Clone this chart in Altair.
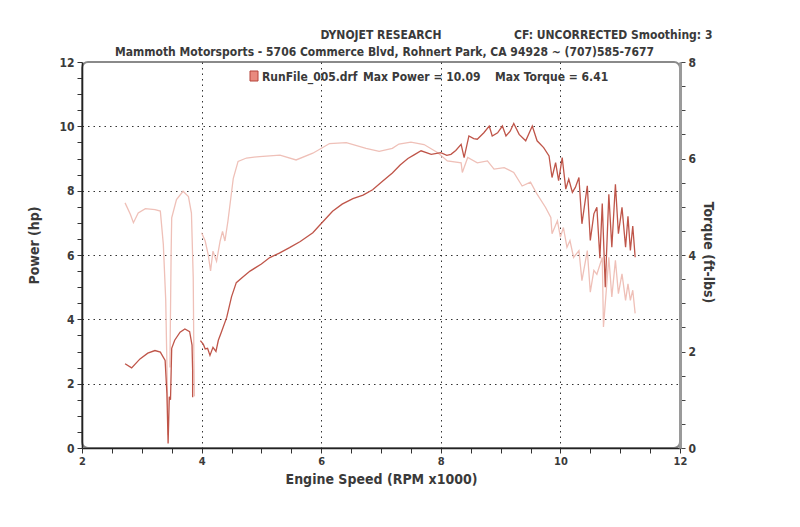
import altair as alt
import pandas as pd

# ---------------- data read from the dyno sheet ----------------
power_rpm = [2.72, 2.83, 2.97, 3.10, 3.22, 3.31, 3.39, 3.42, 3.44, 3.46, 3.48,
             3.50, 3.55, 3.64, 3.72, 3.80, 3.84, 3.85, 3.85,
             3.98, 4.03, 4.06, 4.10, 4.14, 4.19, 4.24, 4.28, 4.33, 4.42, 4.50,
             4.58, 4.70, 4.81, 5.00, 5.14, 5.30, 5.47, 5.65, 5.86, 6.02, 6.19,
             6.35, 6.53, 6.70, 6.86, 7.03, 7.19, 7.32, 7.45, 7.56, 7.67, 7.84,
             8.00, 8.10, 8.17, 8.25, 8.34, 8.39, 8.47, 8.55, 8.61, 8.72, 8.81,
             8.86, 8.95, 9.03, 9.09, 9.16, 9.22, 9.31, 9.42, 9.53, 9.61, 9.72,
             9.81, 9.86, 9.92, 9.97, 10.03, 10.09, 10.14, 10.20, 10.25, 10.31,
             10.36, 10.45, 10.50, 10.56, 10.61, 10.66, 10.70, 10.75, 10.81,
             10.86, 10.92, 10.97, 11.03, 11.09, 11.13, 11.17, 11.21, 11.25]
power_hp = [2.62, 2.49, 2.77, 2.95, 3.03, 2.98, 2.72, 1.69, 0.14, 1.59, 1.50,
            3.10, 3.35, 3.60, 3.70, 3.62, 3.20, 2.40, 1.58,
            3.34, 3.22, 3.08, 3.10, 2.88, 3.13, 3.00, 3.35, 3.60, 4.06, 4.70,
            5.14, 5.33, 5.50, 5.72, 5.92, 6.06, 6.23, 6.42, 6.69, 7.02, 7.36,
            7.58, 7.75, 7.86, 8.03, 8.30, 8.55, 8.80, 9.00, 9.12, 9.24, 9.13,
            9.18, 9.10, 9.13, 9.25, 9.44, 9.03, 9.70, 9.62, 9.60, 9.80, 10.01,
            9.70, 9.80, 10.01, 9.70, 9.85, 10.09, 9.75, 9.55, 10.01, 9.55, 9.34,
            9.08, 8.41, 8.87, 8.31, 9.03, 8.05, 8.36, 7.95, 8.10, 8.41,
            6.97, 8.15, 6.45, 7.28, 7.48, 5.90, 7.60, 5.00, 7.89,
            6.24, 8.20, 6.66, 7.48, 6.24, 7.20, 6.14, 6.90, 5.93]
power_seg = ["a"] * 19 + ["b"] * (len(power_rpm) - 19)

torque_rpm = [2.72, 2.81, 2.86, 2.94, 3.06, 3.22, 3.31, 3.36, 3.40, 3.42, 3.44,
              3.47, 3.49, 3.50, 3.58, 3.69, 3.78, 3.83, 3.86, 3.87, 3.88,
              4.00, 4.06, 4.11, 4.15, 4.19, 4.25, 4.31, 4.35, 4.39, 4.44, 4.53,
              4.61, 4.75, 4.97, 5.31, 5.58, 5.86, 6.14, 6.42, 6.75, 6.97, 7.19,
              7.30, 7.50, 7.72, 7.95, 8.11, 8.34, 8.36, 8.45, 8.61, 8.78, 8.89,
              9.06, 9.22, 9.36, 9.50, 9.61, 9.75, 9.84, 9.86, 9.95, 10.00,
              10.05, 10.11, 10.16, 10.22, 10.31, 10.36, 10.45, 10.50, 10.56,
              10.61, 10.70, 10.72, 10.81, 10.86, 10.92, 10.97, 11.03, 11.09,
              11.13, 11.17, 11.21, 11.25]
torque_ftlb = [5.08, 4.84, 4.67, 4.87, 4.96, 4.94, 4.91, 4.22, 3.07, 1.73, 0.27,
               1.67, 4.00, 4.77, 5.15, 5.32, 5.21, 4.87, 3.53, 2.00, 1.07,
               4.46, 4.29, 4.01, 3.67, 4.08, 3.87, 4.29, 4.49, 4.29, 4.70, 5.59,
               5.94, 6.01, 6.04, 6.07, 5.97, 6.11, 6.31, 6.33, 6.21, 6.15, 6.21,
               6.30, 6.34, 6.29, 6.12, 5.95, 5.91, 5.71, 6.02, 5.91, 5.95, 5.78,
               5.81, 5.71, 5.43, 5.51, 5.26, 4.99, 4.78, 4.44, 4.71, 4.37,
               4.57, 4.16, 4.30, 3.95, 4.09, 3.47, 4.09, 3.23, 3.68,
               3.60, 3.95, 2.51, 3.95, 3.13, 3.89, 3.20, 3.61, 3.06,
               3.40, 3.06, 3.27, 2.79]
torque_seg = ["a"] * 11 + ["b"] * 10 + ["c"] * (len(torque_rpm) - 21)

x_tick_values = [2, 2.5, 3, 3.5, 4, 4.5, 5, 5.5, 6, 6.5, 7, 7.5, 8, 8.5, 9,
                 9.5, 10, 10.5, 11, 11.5, 12]
hp_tick_values = [0, 0.5, 1, 1.5, 2, 2.5, 3, 3.5, 4, 4.5, 5, 5.5, 6, 6.5, 7,
                  7.5, 8, 8.5, 9, 9.5, 10, 10.5, 11, 11.5, 12]
tq_tick_values = [0, 0.5, 1, 1.5, 2, 2.5, 3, 3.5, 4, 4.5, 5, 5.5, 6, 6.5, 7,
                  7.5, 8]

header_main = "DYNOJET RESEARCH"
header_cf = "CF: UNCORRECTED  Smoothing: 3"
header_shop = "Mammoth Motorsports - 5706 Commerce Blvd, Rohnert Park, CA  94928 ~ (707)585-7677"
legend_file = "RunFile_005.drf"
legend_power = "Max Power = 10.09"
legend_tq = "Max Torque = 6.41"

# ---------------- build ----------------
FONT = "DejaVu Sans Condensed, Liberation Sans, sans-serif"
TXT = "#3a3a3a"
POWER_C = "#bf5549"
TORQUE_C = "#efc0b8"

W, H = 598, 386
PAD_L, PAD_T = 82, 62

pdf = pd.DataFrame({"rpm": power_rpm, "hp": power_hp, "seg": power_seg,
                    "i": list(range(len(power_rpm)))})
tdf = pd.DataFrame({"rpm": torque_rpm, "tq": torque_ftlb, "seg": torque_seg,
                    "i": list(range(len(torque_rpm)))})

even = "datum.value % 2 == 0"
inner_grid = {"condition": {"test": f"{even} && datum.value > 2.1 && datum.value < 11.9",
                            "value": 1}, "value": 0}
inner_grid_y = {"condition": {"test": f"{even} && datum.value > 0.1 && datum.value < 11.9",
                              "value": 1}, "value": 0}

x_enc = alt.X("rpm:Q", scale=alt.Scale(domain=[2, 12], nice=False, zero=False),
              axis=alt.Axis(values=x_tick_values,
                            labelExpr=f"{even} ? format(datum.value, 'd') : ''",
                            grid=True, gridOpacity=inner_grid,
                            gridColor="#333", gridDash=[1.5, 4], gridWidth=1,
                            domainColor="#222", domainWidth=1.6,
                            tickColor="#333", tickSize=5,
                            labelFont=FONT, labelFontWeight="bold", labelFontSize=11,
                            labelColor=TXT, labelPadding=2, labelFlush=False,
                            title="Engine Speed (RPM x1000)", titleFont=FONT,
                            titleFontSize=14, titleFontWeight="bold", titleColor=TXT,
                            titleX=299, titleY=31, titleBaseline="middle"))

torque = alt.Chart(tdf).mark_line(color=TORQUE_C, strokeWidth=1.3).encode(
    x=x_enc,
    y=alt.Y("tq:Q", scale=alt.Scale(domain=[0, 8], nice=False),
            axis=alt.Axis(orient="right", values=tq_tick_values,
                          labelExpr=f"{even} ? format(datum.value, 'd') : ''",
                          grid=False, domainColor="#9a9a9a", domainWidth=3,
                          tickColor="#444", tickSize=5,
                          labelFont=FONT, labelFontWeight="bold", labelFontSize=12,
                          labelColor=TXT, labelPadding=3, labelFlush=False,
                          title="Torque (ft-lbs)", titleFont=FONT, titleFontSize=14,
                          titleFontWeight="bold", titleColor=TXT, titleAngle=90,
                          titleX=27, titleY=190, titleBaseline="middle")),
    detail="seg:N",
    order="i:Q",
)

power = alt.Chart(pdf).mark_line(color=POWER_C, strokeWidth=1.3).encode(
    x=x_enc,
    y=alt.Y("hp:Q", scale=alt.Scale(domain=[0, 12], nice=False),
            axis=alt.Axis(orient="left", values=hp_tick_values,
                          labelExpr=f"{even} ? format(datum.value, 'd') : ''",
                          grid=True, gridOpacity=inner_grid_y,
                          gridColor="#333", gridDash=[1.5, 4], gridWidth=1,
                          domainColor="#222", domainWidth=1.6,
                          tickColor="#333", tickSize=5,
                          labelFont=FONT, labelFontWeight="bold", labelFontSize=12,
                          labelColor=TXT, labelPadding=3, labelFlush=False,
                          title="Power (hp)", titleFont=FONT, titleFontSize=14,
                          titleFontWeight="bold", titleColor=TXT, titleAngle=-90,
                          titleX=-48, titleY=183, titleBaseline="middle")),
    detail="seg:N",
    order="i:Q",
)


def label(text, x, y, size=12, align="left"):
    return alt.Chart(pd.DataFrame({"t": [text]})).mark_text(
        font=FONT, fontSize=size, fontWeight="bold", color=TXT,
        align=align, baseline="middle").encode(
        text="t:N", x=alt.value(x), y=alt.value(y))


legend_box = alt.Chart(pd.DataFrame({"t": [legend_file]})).mark_rect(
    fill="#e98a7e", stroke="#b5443a", strokeWidth=1).encode(
    x=alt.value(168), x2=alt.value(176), y=alt.value(9), y2=alt.value(19))

chart = alt.layer(
    torque, power,
    label(header_main, 299, -27, 12, "center"),
    label(header_cf, 432, -27, 12),
    label(header_shop, 33, -10, 12),
    legend_box,
    label(legend_file, 180, 15, 12),
    label(legend_power, 281, 15, 12),
    label(legend_tq, 413, 15, 12),
).resolve_scale(y="independent").properties(
    width=W, height=H,
    background="white",
    padding={"left": PAD_L, "top": PAD_T, "right": 800 - PAD_L - W,
             "bottom": 527 - PAD_T - H},
    autosize=alt.AutoSizeParams(type="none"),
).configure_view(stroke="#8a8a8a", strokeWidth=2, cornerRadius=6)

chart.save("out.html", embed_options={"renderer": "svg", "actions": False})
